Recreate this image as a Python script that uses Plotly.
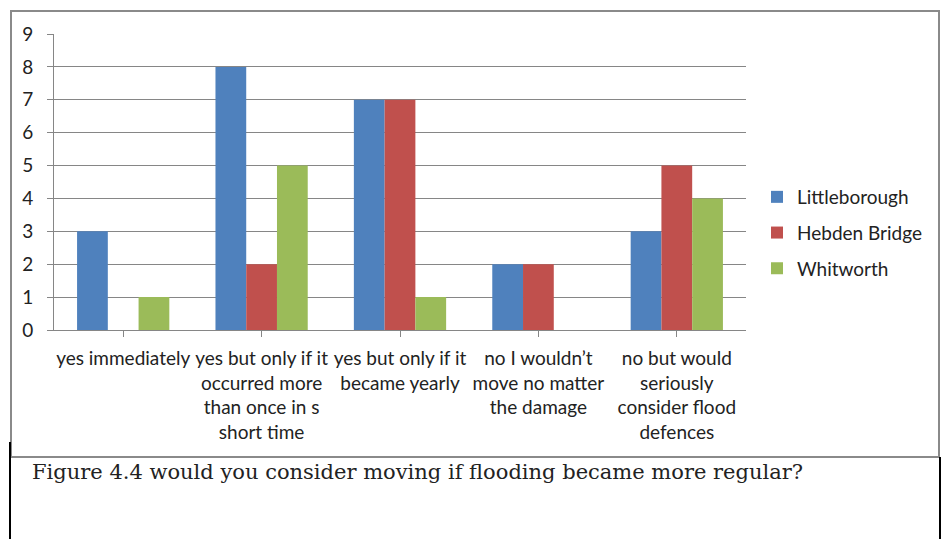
import plotly.graph_objects as go

# Survey responses per town
categories = [
    "yes immediately",
    "yes but only if it<br>occurred more<br>than once in s<br>short time",
    "yes but only if it<br>became yearly",
    "no I wouldn’t<br>move no matter<br>the damage",
    "no but would<br>seriously<br>consider flood<br>defences",
]
littleborough = [3, 8, 7, 2, 3]
hebden_bridge = [None, 2, 7, 2, 5]
whitworth = [1, 5, 1, None, 4]

series = [
    ("Littleborough", littleborough, "#4F81BD"),
    ("Hebden Bridge", hebden_bridge, "#C0504D"),
    ("Whitworth", whitworth, "#9BBB59"),
]
y_ticks = list(range(0, 10))
caption = "Figure 4.4 would you consider moving if flooding became more regular?"

W, H = 945, 539
# plot area in pixels
PL, PR, PT, PB = 54, 746, 34, 330


def px(x):
    return (x - PL) / (PR - PL)


def py(y):
    return (PB - y) / (PB - PT)


fig = go.Figure()
for i, (name, vals, color) in enumerate(series):
    fig.add_trace(go.Bar(
        x=list(range(len(categories))), y=vals, name=name,
        marker=dict(color=color, line=dict(width=0)),
        legendgroup=f"g{i}",
    ))

fig.update_layout(
    width=W, height=H,
    margin=dict(l=PL, r=W - PR, t=PT, b=H - PB, pad=0),
    paper_bgcolor="white", plot_bgcolor="white",
    barmode="group", bargap=1.5 / 4.5, bargroupgap=0,
    font=dict(family="Lato, Carlito, sans-serif", size=19, color="#222222"),
    legend=dict(
        x=px(757), y=py(197 - 19), xanchor="left", yanchor="top",
        font=dict(size=19, color="#222222"),
        tracegroupgap=8, itemwidth=30, bgcolor="rgba(0,0,0,0)",
    ),
    showlegend=True,
)
fig.update_xaxes(
    range=[-0.5, len(categories) - 0.5],
    tickmode="array", tickvals=list(range(len(categories))), ticktext=categories,
    tickson="boundaries", ticks="outside", ticklen=6, tickcolor="#868686",
    showline=True, linecolor="#868686", linewidth=1,
    showgrid=False, zeroline=False, tickangle=0,
    tickfont=dict(size=19, color="#222222"), ticklabelstandoff=5,
)
fig.update_yaxes(
    range=[0, 9], tickmode="array", tickvals=y_ticks,
    ticks="outside", ticklen=6, tickcolor="#868686",
    showline=True, linecolor="#868686", linewidth=1,
    showgrid=True, gridcolor="#868686", gridwidth=1, zeroline=False,
    tickfont=dict(size=19, color="#222222"), ticklabelstandoff=10,
)

# chart frame
fig.add_shape(type="rect", xref="paper", yref="paper",
              x0=px(11), x1=px(939), y0=py(457), y1=py(11),
              line=dict(color="#8a8a8a", width=2), layer="below")
# caption box sides
fig.add_shape(type="line", xref="paper", yref="paper",
              x0=px(10), x1=px(10), y0=py(442), y1=py(539),
              line=dict(color="black", width=2))
fig.add_shape(type="line", xref="paper", yref="paper",
              x0=px(940), x1=px(940), y0=py(457), y1=py(539),
              line=dict(color="black", width=2))

fig.add_annotation(
    text=caption, xref="paper", yref="paper",
    x=px(30), y=py(472), xanchor="left", yanchor="middle", showarrow=False,
    font=dict(family="DejaVu Serif, serif", size=21, color="#222222"),
)

fig.write_html("out.html")
